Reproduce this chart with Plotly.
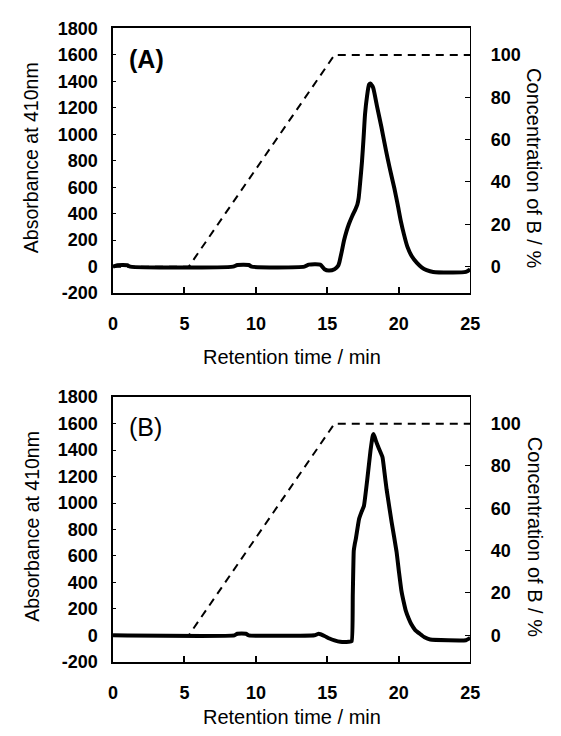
import plotly.graph_objects as go

# ---- data ----
time_A = [0, 0.3, 1.0, 1.2, 8.4, 8.7, 9.5, 9.7, 13.4, 13.7, 14.5, 14.8, 15.1, 15.5,
          15.75, 15.83, 16.0, 16.17, 16.35, 16.51, 16.75, 16.96, 17.1, 17.19, 17.3,
          17.42, 17.54, 17.64, 17.78, 17.92, 18.02, 18.12, 18.21, 18.5, 18.78,
          19.0, 19.23, 19.46, 19.69, 19.92, 20.14, 20.37, 20.6, 20.9, 21.27, 21.6,
          21.95, 22.41, 24.7, 25]
abs_A = [0, 10, 10, 0, 0, 12, 12, 0, 0, 15, 15, -20, -30, -20,
         5, 28, 110, 199, 270, 322, 385, 432, 470, 518, 640,
         788, 980, 1155, 1290, 1376, 1385, 1370, 1351, 1200, 1057,
         935, 812, 700, 592, 470, 346, 240, 151, 80, 28, -5,
         -26, -40, -40, -20]

time_B = [0, 8.5, 8.7, 9.3, 9.5, 14.1, 14.4, 14.8, 15.15, 15.5, 15.9, 16.5, 16.7,
          16.78, 16.85, 16.92, 17.0, 17.22, 17.4, 17.56, 17.79, 18.02, 18.17, 18.24,
          18.4, 18.58, 18.86, 19.0, 19.15, 19.5, 19.84, 20.0, 20.18, 20.35, 20.5,
          20.7, 20.87, 21.15, 21.47, 21.8, 22.2, 24.7, 25]
abs_B = [0, 0, 12, 12, 0, 0, 12, -5, -24, -38, -49, -49, -45,
         300, 640, 690, 733, 880, 935, 978, 1174, 1395, 1505, 1522,
         1470, 1419, 1346, 1230, 1101, 855, 635, 490, 340, 250, 183,
         125, 85, 40, 12, -15, -32, -37, -20]

grad_time = [0, 5.3, 15.5, 25]
grad_conc = [0, 0, 100, 100]

panel_labels = ["(A)", "(B)"]
x_ticks = [0, 5, 10, 15, 20, 25]
left_ticks = [-200, 0, 200, 400, 600, 800, 1000, 1200, 1400, 1600, 1800]
left_text = [str(v) for v in left_ticks]
right_ticks = [0, 20, 40, 60, 80, 100]

W, H = 561, 736
FONT = "Liberation Sans, Arial, sans-serif"

fig = go.Figure()

fig.add_trace(go.Scatter(x=time_A, y=abs_A, mode="lines",
                         line=dict(color="black", width=4, shape="spline", smoothing=0.6),
                         xaxis="x", yaxis="y", showlegend=False))
fig.add_trace(go.Scatter(x=grad_time, y=grad_conc, mode="lines",
                         line=dict(color="black", width=2, dash="8px,6px"),
                         xaxis="x", yaxis="y2", showlegend=False))
fig.add_trace(go.Scatter(x=time_B, y=abs_B, mode="lines",
                         line=dict(color="black", width=4, shape="spline", smoothing=0.4),
                         xaxis="x2", yaxis="y3", showlegend=False))
fig.add_trace(go.Scatter(x=grad_time, y=grad_conc, mode="lines",
                         line=dict(color="black", width=2, dash="8px,6px"),
                         xaxis="x2", yaxis="y4", showlegend=False))

x0, x1 = 111 / W, 478 / W
top_dom = [1 - 291 / H, 1 - 19 / H]
bot_dom = [1 - 670 / H, 1 - 398 / H]

tickfont = dict(family=FONT, size=18, color="black", weight="bold")

def xax(anchor):
    return dict(domain=[x0, x1], range=[0, 25], tickvals=x_ticks, anchor=anchor,
                showline=True, linecolor="black", linewidth=1.5, mirror=True,
                ticks="inside", ticklen=6, tickcolor="black", tickwidth=1.5,
                showgrid=False, zeroline=False, tickfont=tickfont,
                ticklabelstandoff=14)

def yleft(dom, anchor):
    return dict(domain=dom, range=[-200, 1800], tickvals=left_ticks, ticktext=left_text,
                anchor=anchor, showline=True, linecolor="black", linewidth=1.5,
                ticks="inside", ticklen=3, tickcolor="black", tickwidth=1,
                showgrid=False, zeroline=False, tickfont=tickfont,
                ticklabelstandoff=10)

def yright(over, anchor):
    return dict(overlaying=over, side="right", range=[-12.5, 112.5], tickvals=right_ticks,
                anchor=anchor, showline=True, linecolor="black", linewidth=1,
                ticks="inside", ticklen=5, tickcolor="black", tickwidth=1,
                showgrid=False, zeroline=False, tickfont=tickfont,
                ticklabelstandoff=16)

annotations = []
for xt_y, ptop, pbot, lab, bold in [(357, 19, 291, panel_labels[0], True),
                                    (727, 398, 670, panel_labels[1], False)]:
    annotations.append(dict(text="Retention time / min", x=(111 + 478) / 2 / W,
                            y=1 - xt_y / H, xref="paper", yref="paper",
                            showarrow=False, xanchor="center", yanchor="middle",
                            font=dict(family=FONT, size=20, color="black")))
    annotations.append(dict(text="Absorbance at 410nm", x=27 / W,
                            y=1 - ((ptop + pbot) / 2 - 3) / H, xref="paper", yref="paper",
                            showarrow=False, textangle=-90, xanchor="center",
                            yanchor="middle",
                            font=dict(family=FONT, size=19.5, color="black")))
    annotations.append(dict(text="Concentration of B / %", x=544 / W,
                            y=1 - ((ptop + pbot) / 2 + 8) / H, xref="paper", yref="paper",
                            showarrow=False, textangle=90, xanchor="center",
                            yanchor="middle",
                            font=dict(family=FONT, size=20, color="black")))
    annotations.append(dict(text=lab, x=125 / W, y=1 - (ptop + 31) / H,
                            xref="paper", yref="paper", showarrow=False,
                            xanchor="left", yanchor="middle",
                            font=dict(family=FONT, size=25, color="black",
                                      weight="bold" if bold else "normal")))

fig.update_layout(
    width=W, height=H, autosize=False,
    margin=dict(l=0, r=0, t=0, b=0),
    paper_bgcolor="white", plot_bgcolor="white",
    xaxis=xax("y"),
    xaxis2=xax("y3"),
    yaxis=yleft(top_dom, "x"),
    yaxis2=yright("y", "x"),
    yaxis3=yleft(bot_dom, "x2"),
    yaxis4=yright("y3", "x2"),
    annotations=annotations,
    showlegend=False,
)

fig.write_html("out.html", config={"displayModeBar": False},
               post_script="document.body.style.margin='0';document.body.style.overflow='hidden';")
